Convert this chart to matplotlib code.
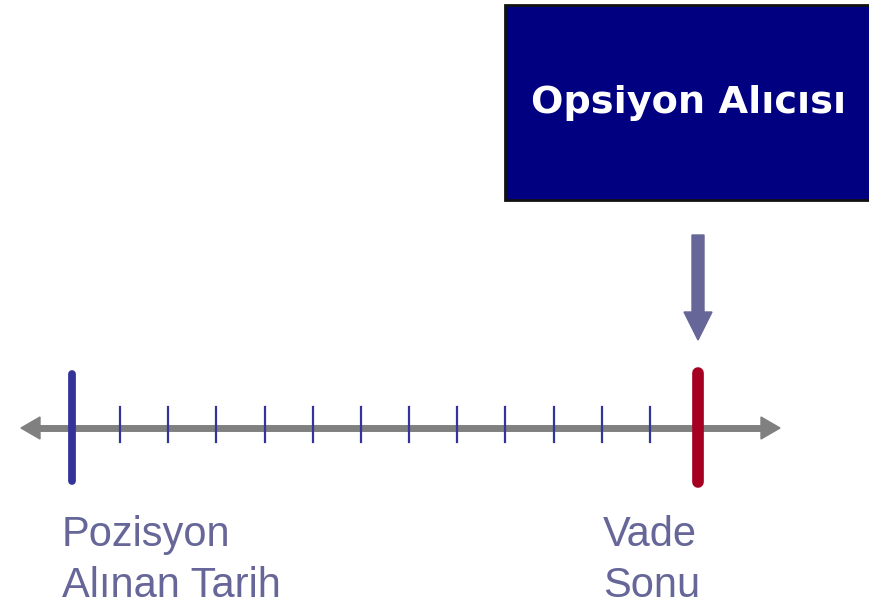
import matplotlib
matplotlib.use("Agg")
import matplotlib.pyplot as plt
from matplotlib.patches import Rectangle, Polygon

# --- content ---
box_label = "Opsiyon Alıcısı"
start_label = ["Pozisyon", "Alınan Tarih"]
end_label = ["Vade", "Sonu"]
start_period = 0
end_period = 13
small_ticks = [1, 2, 3, 4, 5, 6, 7, 8, 9, 10, 11, 12]

W, H = 869, 607
fig = plt.figure(figsize=(W / 100, H / 100), dpi=100)
ax = fig.add_axes([0, 0, 1, 1])
# x in period units: period 0 at pixel 72, period 13 at pixel 698
px_per = (698 - 72) / (end_period - start_period)
x0 = start_period - 72 / px_per
x1 = start_period + (W - 72) / px_per
ax.set_xlim(x0, x1)
ax.set_ylim(H, 0)
ax.axis("off")

def px(p):  # pixel offset -> period units
    return p / px_per

grey = "#808080"
blue = "#333399"
slate = "#666699"
red = "#a50021"
navy = "#000080"
font = "Liberation Sans"

# timeline line
yl = 428
left_tip = start_period - px(51)
right_tip = end_period + px(82)
ax.plot([left_tip + px(15), right_tip - px(15)], [yl, yl], color=grey, lw=5, solid_capstyle="butt", zorder=2)
ax.add_patch(Polygon([[left_tip, yl], [left_tip + px(19), yl - 11], [left_tip + px(19), yl + 11]],
                     closed=True, color=grey, zorder=2))
ax.add_patch(Polygon([[right_tip, yl], [right_tip - px(19), yl - 11], [right_tip - px(19), yl + 11]],
                     closed=True, color=grey, zorder=2))

# small ticks
for t in small_ticks:
    ax.plot([t, t], [407, 442], color=blue, lw=1.6, zorder=3)

# start & end markers
ax.plot([start_period, start_period], [374, 481], color=blue, lw=5.6, solid_capstyle="round", zorder=4)
ax.plot([end_period, end_period], [373, 482], color=red, lw=8.4, solid_capstyle="round", zorder=4)

# down arrow
ax.add_patch(Polygon([[end_period - px(6), 235], [end_period + px(6), 235],
                      [end_period + px(6), 312], [end_period + px(14), 312],
                      [end_period, 340], [end_period - px(14), 312],
                      [end_period - px(6), 312]], closed=True, color=slate, zorder=3))

# box
bx0 = start_period + px(505 - 72)
ax.add_patch(Rectangle((bx0, 5), px(W + 10 - 505), 195, facecolor=navy,
                       edgecolor="#111111", lw=2, zorder=3))
ax.text(bx0 + px(689 - 505), 113, box_label, color="white", fontsize=27.5,
        fontweight="bold", family="DejaVu Sans", ha="center", va="baseline", zorder=4)

# labels
for i, line in enumerate(start_label):
    ax.text(start_period - px(10), 546 + 51 * i, line, color=slate, fontsize=30,
            family=font, ha="left", va="baseline")
for i, line in enumerate(end_label):
    ax.text(end_period - px(95), 546 + 51 * i, line, color=slate, fontsize=30,
            family=font, ha="left", va="baseline")

fig.savefig("out.png", dpi=100)
